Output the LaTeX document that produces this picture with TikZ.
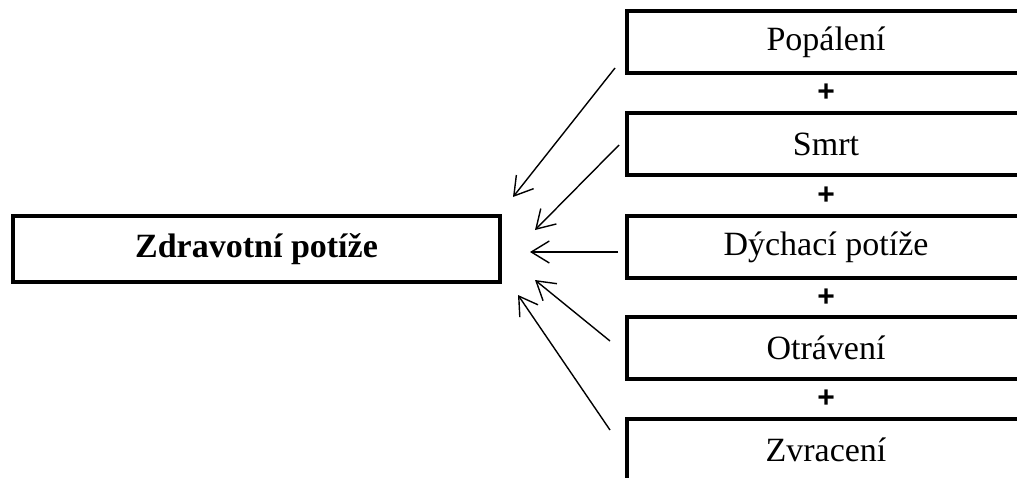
\documentclass[tikz,border=0pt]{standalone}
\usepackage{fontspec}
\setmainfont{Liberation Serif}
\newfontfamily\plusfont{Liberation Sans}
\usetikzlibrary{calc,positioning,arrows.meta}

\tikzset{
  box/.style={draw,line width=3.4pt,outer sep=0pt,minimum width=398pt,minimum height=62pt,inner sep=0pt,
    font=\fontsize{34pt}{40pt}\selectfont},
  plus/.style={font=\plusfont\bfseries\fontsize{30pt}{34pt}\selectfont,inner sep=0pt}
}

\begin{document}
\begin{tikzpicture}[x=1pt,y=-1pt,auto,>={Straight Barb[length=18pt,width=22pt]}]
      \useasboundingbox (0,0) rectangle (1017,477);
      \clip (0,0) rectangle (1017,477);

      \node[box,minimum width=487pt,minimum height=66pt] (Z) at (256.5,249) {\textbf{Zdravotní potíže}};
      \node[box] (P) at (826,42) {Popálení};
      \node[box,below=40pt of P] (S) {Smrt};
      \node[box,below=41pt of S] (D) {Dýchací potíže};
      \node[box,below=39pt of D] (O) {Otrávení};
      \node[box,below=40pt of O] (V) {Zvracení};

      \node[plus] at ($(P.south)!0.5!(S.north)$) {+};
      \node[plus] at ($(S.south)!0.5!(D.north)$) {+};
      \node[plus] at ($(D.south)!0.5!(O.north)$) {+};
      \node[plus] at ($(O.south)!0.5!(V.north)$) {+};

      % loose ends of the arrows
      \coordinate (P_out) at ($(P.south west)+(-12,-5)$);
      \coordinate (S_out) at ($(S.west)+(-8,1)$);
      \coordinate (D_out) at ($(D.west)+(-9,5)$);
      \coordinate (O_out) at ($(O.west)+(-17,-7)$);
      \coordinate (V_out) at ($(V.west)+(-17,-20)$);
      \coordinate (P_in) at ($(Z.east)+(13,-52)$);
      \coordinate (S_in) at ($(Z.east)+(35,-19)$);
      \coordinate (D_in) at ($(Z.east)+(30,3)$);
      \coordinate (O_in) at ($(Z.east)+(35,31)$);
      \coordinate (V_in) at ($(Z.east)+(18,46)$);

      \draw[->,line width=1.4pt] (P_out) -- (P_in);
      \draw[->,line width=1.4pt] (S_out) -- (S_in);
      \draw[->,line width=1.4pt] (D_out) -- (D_in);
      \draw[->,line width=1.4pt] (O_out) -- (O_in);
      \draw[->,line width=1.4pt] (V_out) -- (V_in);
\end{tikzpicture}
\end{document}
